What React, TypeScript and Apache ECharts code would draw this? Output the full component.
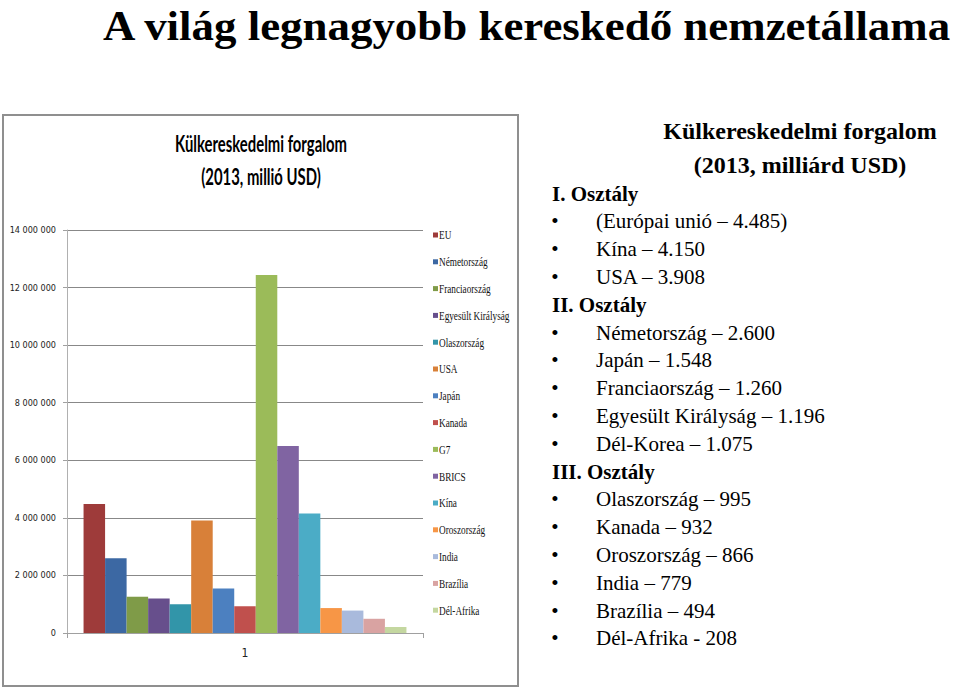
import React, { useEffect, useRef } from "react";
import * as echarts from "echarts";

// ---- data ----
const categories = ["1"];
const seriesNames = [
  "EU",
  "Németország",
  "Franciaország",
  "Egyesült Királyság",
  "Olaszország",
  "USA",
  "Japán",
  "Kanada",
  "G7",
  "BRICS",
  "Kína",
  "Oroszország",
  "India",
  "Brazília",
  "Dél-Afrika",
];
const seriesValues = [
  4485000, 2600000, 1260000, 1196000, 995000, 3908000, 1548000, 932000,
  12439000, 6497000, 4150000, 866000, 779000, 494000, 208000,
];
const seriesColors = [
  "#9e3b3a", "#3c68a3", "#7f9b48", "#674f8c", "#3295a9", "#d88039", "#4c80c0",
  "#c0504d", "#9bbb59", "#8064a2", "#4bacc6", "#f79646", "#a9badc", "#d9a3a2",
  "#c4d7a0",
];
const yMin = 0;
const yMax = 14000000;
const yInterval = 2000000;

const slideTitle = "A világ legnagyobb kereskedő nemzetállama";
const chartTitleLines = ["Külkereskedelmi forgalom", "(2013, millió USD)"];
const sideTitleLines = ["Külkereskedelmi forgalom", "(2013, milliárd USD)"];
const sideRowTexts = [
  "I. Osztály",
  "(Európai unió – 4.485)",
  "Kína – 4.150",
  "USA – 3.908",
  "II. Osztály",
  "Németország – 2.600",
  "Japán – 1.548",
  "Franciaország – 1.260",
  "Egyesült Királyság – 1.196",
  "Dél-Korea – 1.075",
  "III. Osztály",
  "Olaszország – 995",
  "Kanada – 932",
  "Oroszország – 866",
  "India – 779",
  "Brazília – 494",
  "Dél-Afrika - 208",
];
const sideRowIsHeading = [
  true, false, false, false, true, false, false, false, false, false, true,
  false, false, false, false, false, false,
];

function measure(text: string, font: string): number {
  const c = document.createElement("canvas").getContext("2d");
  if (!c) return text.length * 10;
  c.font = font;
  return c.measureText(text).width;
}

function txt(
  text: string,
  x: number,
  y: number,
  opts: {
    size: number;
    family: string;
    weight?: string;
    align?: string;
    scaleX?: number;
    fill?: string;
  }
) {
  const align = opts.align || "left";
  return {
    type: "text",
    x,
    y,
    scaleX: opts.scaleX ?? 1,
    scaleY: 1,
    style: {
      text,
      x: 0,
      y: 0,
      fill: opts.fill || "#000",
      fontSize: opts.size,
      fontFamily: opts.family,
      fontWeight: opts.weight || "normal",
      align,
      textAlign: align,
      verticalAlign: "middle",
      textVerticalAlign: "middle",
    },
  };
}

export default function App() {
  const ref = useRef<HTMLDivElement>(null);

  useEffect(() => {
    if (!ref.current) return;
    const chart = echarts.init(ref.current, undefined, { renderer: "svg" });

    const serif = '"Liberation Serif", "Times New Roman", serif';
    const calibriLike = 'Lato, "Open Sans", sans-serif';
    const narrow = '"Liberation Sans Narrow", "DejaVu Sans Condensed", Roboto, sans-serif';

    const titleScale =
      172 / measure(chartTitleLines[0], `bold 22px ${calibriLike}`);
    const slideScale = Math.min(
      1.08,
      850 / measure(slideTitle, `bold 42px ${serif}`)
    );

    const graphics: any[] = [];
    // frame of the embedded chart
    graphics.push({
      type: "rect",
      shape: { x: 3, y: 115, width: 515, height: 571 },
      style: { fill: "none", stroke: "#8f8f8f", lineWidth: 2 },
      silent: true,
    });
    // slide title
    graphics.push(
      txt(slideTitle, 103, 26, {
        size: 42,
        family: serif,
        weight: "bold",
        scaleX: slideScale,
      })
    );
    // chart title
    chartTitleLines.forEach((t, i) =>
      graphics.push(
        txt(t, 261, 143 + i * 33, {
          size: 22,
          family: calibriLike,
          weight: "bold",
          align: "center",
          scaleX: titleScale,
        })
      )
    );
    // side title
    sideTitleLines.forEach((t, i) =>
      graphics.push(
        txt(t, 800, 131 + i * 33.5, {
          size: 24,
          family: serif,
          weight: "bold",
          align: "center",
        })
      )
    );
    // side list
    sideRowTexts.forEach((t, i) => {
      const y = 193.5 + 27.8 * i;
      if (sideRowIsHeading[i]) {
        graphics.push(txt(t, 552, y, { size: 21, family: serif, weight: "bold" }));
      } else {
        graphics.push(txt("•", 555, y, { size: 21, family: serif, align: "center" }));
        graphics.push(txt(t, 596, y, { size: 21, family: serif }));
      }
    });
    // legend of the embedded chart
    seriesNames.forEach((n, i) => {
      const cy = 235 + 26.8 * i;
      graphics.push({
        type: "rect",
        shape: { x: 433, y: cy - 2.5, width: 5, height: 5 },
        style: { fill: seriesColors[i] },
      });
      graphics.push(
        txt(n, 439, cy, { size: 12, family: serif, scaleX: 0.77, fill: "#111" })
      );
    });

    const option: any = {
      animation: false,
      backgroundColor: "#ffffff",
      grid: { left: 67, right: 537, top: 230, bottom: 55, containLabel: false },
      xAxis: {
        type: "category",
        data: categories,
        axisLine: { show: true, lineStyle: { color: "#a0a0a0", width: 1 } },
        axisTick: { show: true, length: 5, lineStyle: { color: "#a0a0a0" } },
        axisLabel: {
          margin: 14,
          fontFamily: narrow,
          fontSize: 12,
          color: "#222",
        },
      },
      yAxis: {
        type: "value",
        min: yMin,
        max: yMax,
        interval: yInterval,
        axisLine: { show: true, lineStyle: { color: "#b0b0b0", width: 1 } },
        axisTick: { show: true, length: 4, lineStyle: { color: "#a0a0a0" } },
        splitLine: { show: true, lineStyle: { color: "#888888", width: 1 } },
        axisLabel: {
          margin: 11,
          fontFamily: narrow,
          fontSize: 9,
          color: "#222",
          formatter: (v: number) =>
            String(v).replace(/\B(?=(\d{3})+(?!\d))/g, " "),
        },
      },
      series: seriesNames.map((name, i) => ({
        name,
        type: "bar",
        data: [seriesValues[i]],
        barGap: "0%",
        barCategoryGap: "9.3%",
        itemStyle: { color: seriesColors[i] },
      })),
      graphic: { elements: graphics },
    };

    chart.setOption(option);
    return () => chart.dispose();
  }, []);

  return (
    <div
      ref={ref}
      style={{
        position: "fixed",
        left: 0,
        top: 0,
        width: 960,
        height: 688,
        background: "#fff",
      }}
    />
  );
}
